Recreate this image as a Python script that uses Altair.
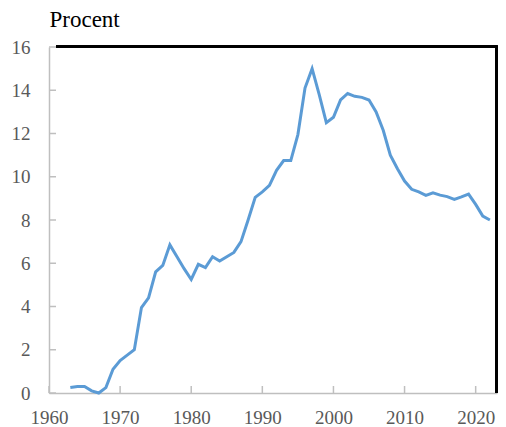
import altair as alt
import pandas as pd

years = list(range(1963, 2023))
values = [0.25, 0.3, 0.3, 0.1, 0.0, 0.25, 1.1, 1.5, 1.75, 2.0,
          3.95, 4.4, 5.6, 5.9, 6.85, 6.3, 5.75, 5.25, 5.95, 5.8,
          6.3, 6.1, 6.3, 6.5, 7.0, 8.0, 9.05, 9.3, 9.6, 10.3,
          10.75, 10.75, 11.95, 14.1, 15.0, 13.8, 12.5, 12.75, 13.55, 13.85,
          13.72, 13.67, 13.55, 13.0, 12.15, 11.0, 10.37, 9.8, 9.42, 9.3,
          9.14, 9.26, 9.15, 9.08, 8.95, 9.07, 9.2, 8.72, 8.18, 8.0]
tick_years = [1960, 1970, 1980, 1990, 2000, 2010, 2020]
tick_values = [0, 2, 4, 6, 8, 10, 12, 14, 16]

df = pd.DataFrame({"year": years, "value": values})
xticks_df = pd.DataFrame({"year": tick_years})
yticks_df = pd.DataFrame({"value": tick_values})

W, H = 448, 346
TL = 7
FONT = "'Liberation Serif', 'Times New Roman', Times, serif"
AXIS_GREY = "#BFBFBF"
LABEL_COL = "#595959"
xscale = alt.Scale(domain=[1960, 2023], nice=False, zero=False)
yscale = alt.Scale(domain=[0, 16], nice=False)

line = alt.Chart(df).mark_line(color="#5B9BD5", strokeWidth=3).encode(
    x=alt.X("year:Q", scale=xscale,
            axis=alt.Axis(values=tick_years, format="d", title=None, ticks=False,
                          grid=False, domainColor=AXIS_GREY, domainWidth=1.5,
                          labelFont=FONT, labelFontSize=19, labelColor=LABEL_COL,
                          labelPadding=15, labelFlush=False)),
    y=alt.Y("value:Q", scale=yscale,
            axis=alt.Axis(values=tick_values, title="Procent", ticks=False,
                          grid=False, domainColor=AXIS_GREY, domainWidth=1.5,
                          labelFont=FONT, labelFontSize=19, labelColor=LABEL_COL,
                          labelPadding=19,
                          titleFont=FONT, titleFontSize=23, titleFontWeight="normal",
                          titleColor="#000000", titleAngle=0, titleAlign="left",
                          titleBaseline="alphabetic", titleX=0, titleY=-21)),
)

xticks = alt.Chart(xticks_df).mark_rule(color=AXIS_GREY, strokeWidth=1.5).encode(
    x=alt.X("year:Q", scale=xscale),
    y=alt.value(H),
    y2=alt.value(H - TL),
)
yticks = alt.Chart(yticks_df).mark_rule(color=AXIS_GREY, strokeWidth=1.5).encode(
    y=alt.Y("value:Q", scale=yscale),
    x=alt.value(0),
    x2=alt.value(TL),
)

top_border = alt.Chart(xticks_df).mark_rule(color="black", strokeWidth=2.2).encode(
    x=alt.value(TL), x2=alt.value(W), y=alt.value(-0.5)
)
right_border = alt.Chart(xticks_df).mark_rule(color="black", strokeWidth=2.4).encode(
    x=alt.value(W - 0.5), y=alt.value(-1.5), y2=alt.value(H)
)

chart = alt.layer(xticks, yticks, line, top_border, right_border).properties(
    width=W, height=H,
    padding={"left": 41, "top": 39, "right": 1, "bottom": 34},
    autosize="none",
).configure_view(stroke=None)

chart.save("out.html", embed_options={"renderer": "svg", "actions": False})
